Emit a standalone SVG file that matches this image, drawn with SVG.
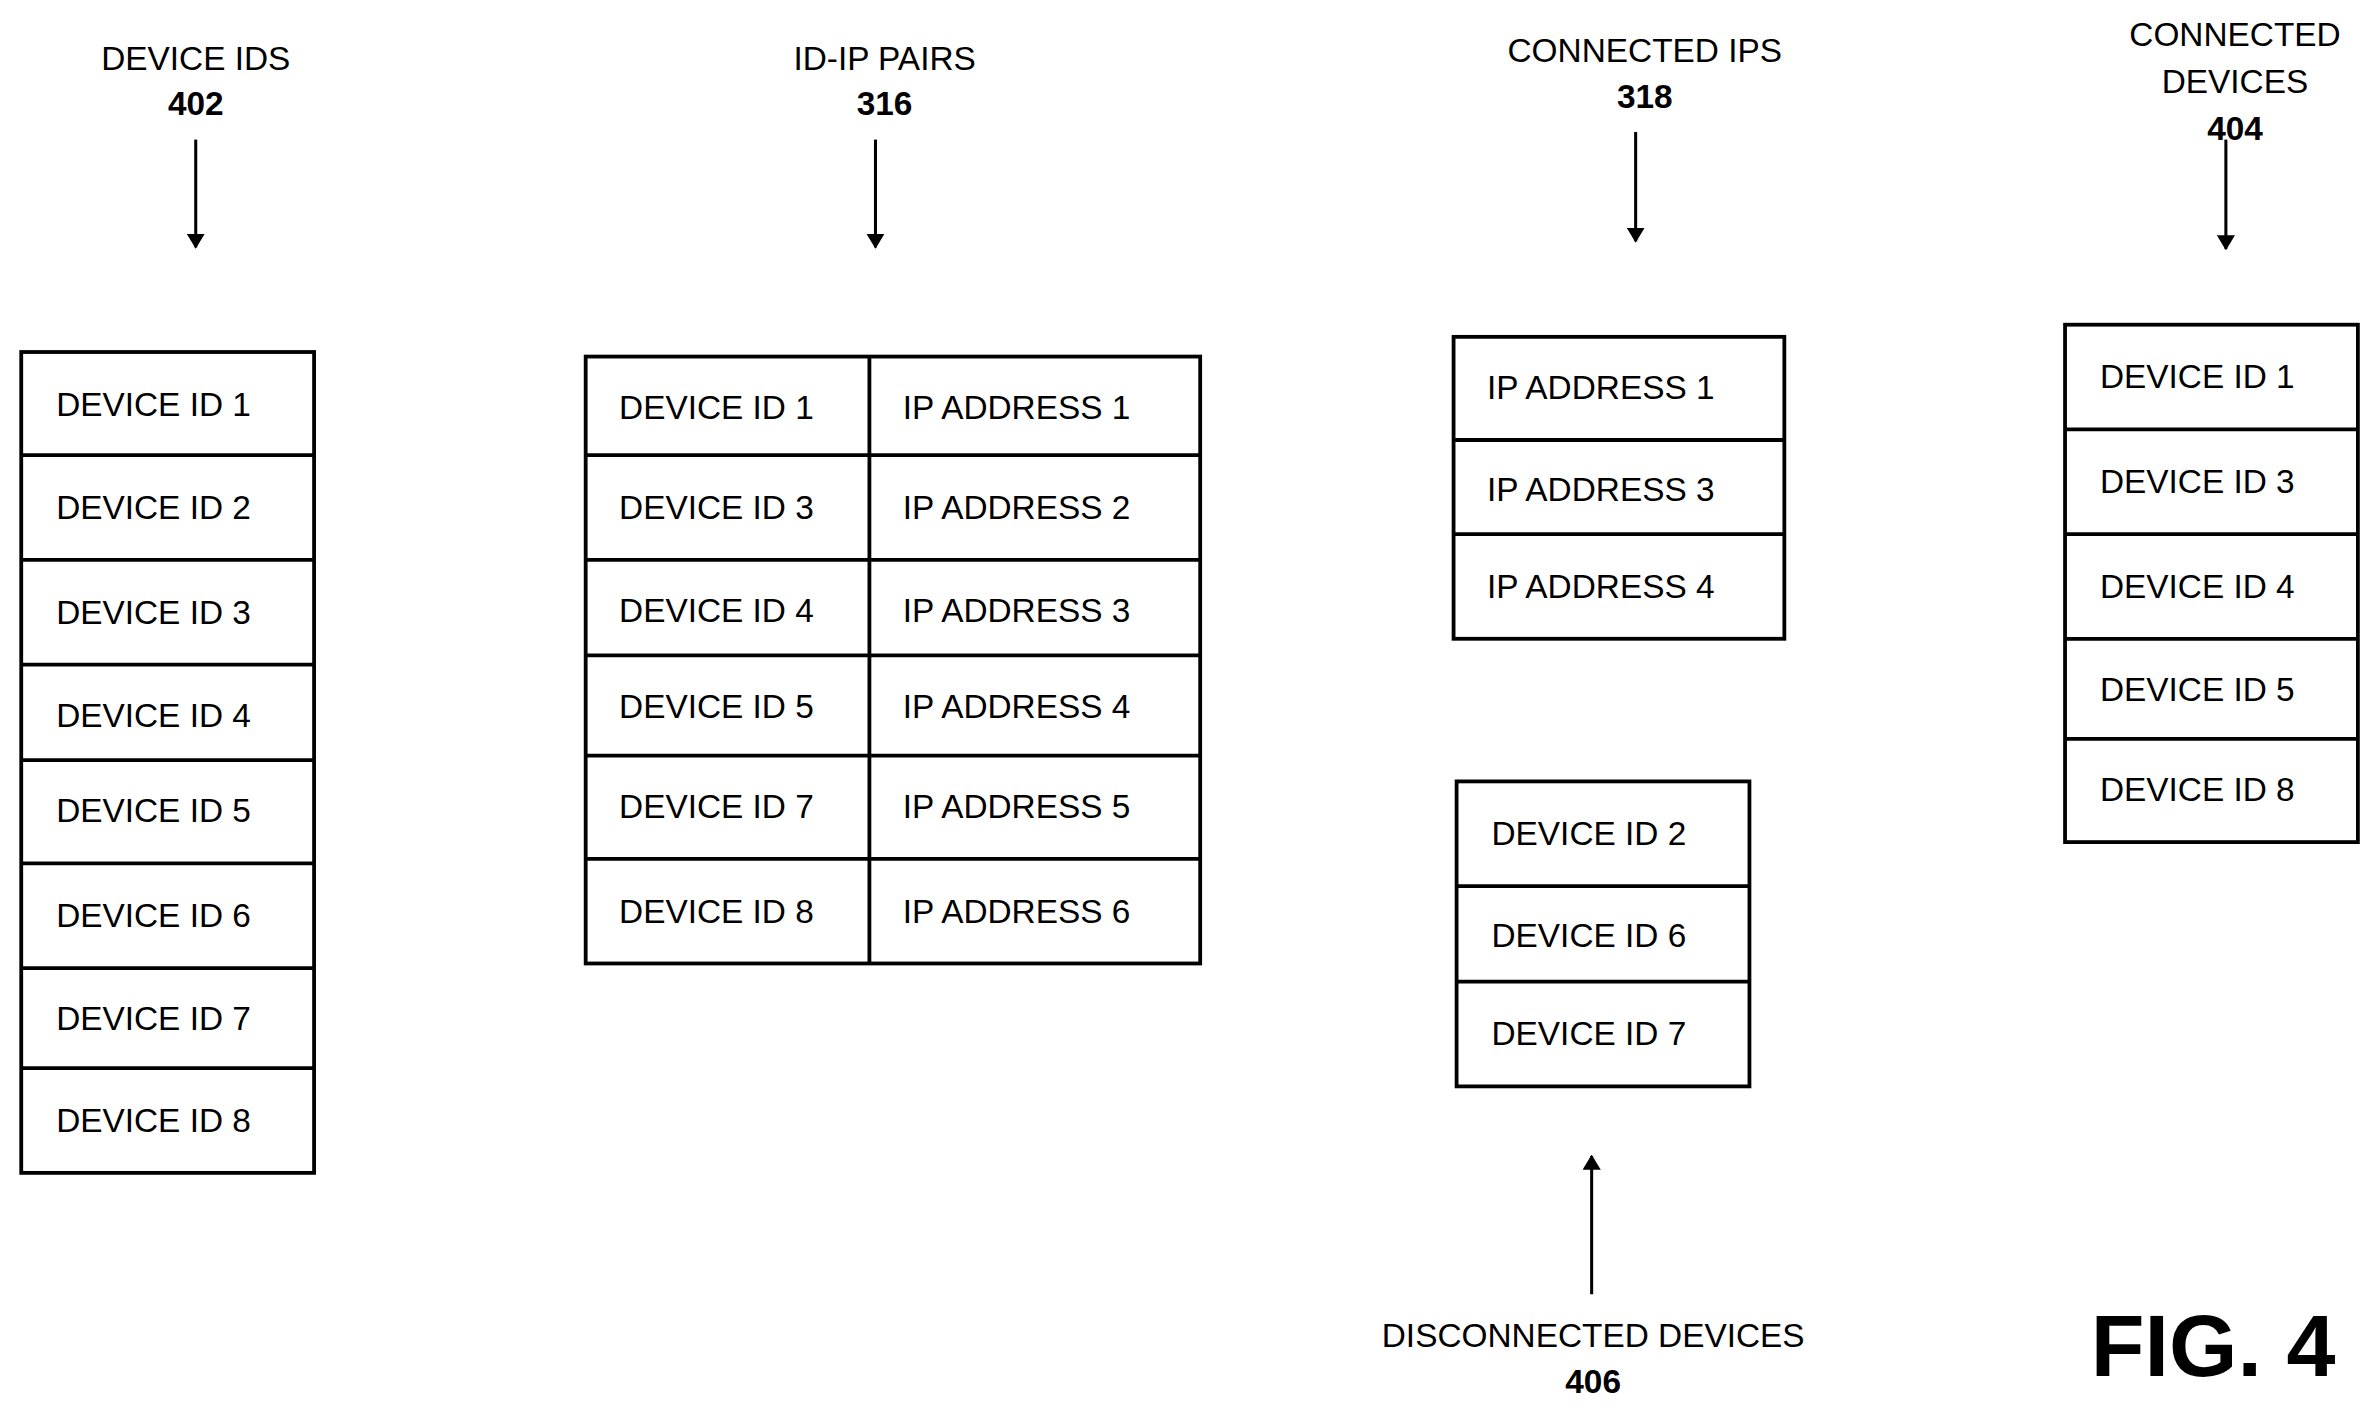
<svg xmlns="http://www.w3.org/2000/svg" width="2379" height="1415" viewBox="0 0 2379 1415">
<style>
.b{fill:#fff;stroke:#000;stroke-width:2.5}
.l{stroke:#000;stroke-width:2.5;fill:none}
.t{font-family:"Liberation Sans",Arial,sans-serif;font-size:22px;fill:#000}
.c{text-anchor:middle}
.n{font-weight:bold}
.a{stroke:#000;stroke-width:2;fill:none;marker-end:url(#ah)}
</style>
<defs><marker id="ah" markerWidth="10" markerHeight="12" refX="9" refY="6" orient="auto" markerUnits="userSpaceOnUse"><path d="M0,0 L10,6 L0,12 z" fill="#000"/></marker></defs>
<rect width="2379" height="1415" fill="#fff"/>
<g transform="scale(1.5173)">
<g id="device-ids">
<rect class="b" x="14" y="232" width="193" height="541"/>
<path class="l" d="M14 300H207M14 369H207M14 438H207M14 501H207M14 569H207M14 638H207M14 704H207"/>
<text class="t" x="37" y="274">DEVICE ID 1</text><text class="t" x="37" y="342">DEVICE ID 2</text><text class="t" x="37" y="411">DEVICE ID 3</text><text class="t" x="37" y="479">DEVICE ID 4</text><text class="t" x="37" y="542">DEVICE ID 5</text><text class="t" x="37" y="611">DEVICE ID 6</text><text class="t" x="37" y="679">DEVICE ID 7</text><text class="t" x="37" y="746">DEVICE ID 8</text>
<text class="t c" x="129" y="46">DEVICE IDS</text><text class="t c n" x="129" y="76">402</text>
</g>
<g id="id-ip-pairs">
<rect class="b" x="386" y="235" width="405" height="400"/>
<path class="l" d="M573 235V635M386 300H791M386 369H791M386 432H791M386 498H791M386 566H791"/>
<g class="t">
<text x="408" y="276">DEVICE ID 1</text><text x="595" y="276">IP ADDRESS 1</text>
<text x="408" y="342">DEVICE ID 3</text><text x="595" y="342">IP ADDRESS 2</text>
<text x="408" y="410">DEVICE ID 4</text><text x="595" y="410">IP ADDRESS 3</text>
<text x="408" y="473">DEVICE ID 5</text><text x="595" y="473">IP ADDRESS 4</text>
<text x="408" y="539">DEVICE ID 7</text><text x="595" y="539">IP ADDRESS 5</text>
<text x="408" y="608">DEVICE ID 8</text><text x="595" y="608">IP ADDRESS 6</text>
</g>
<text class="t c" x="583" y="46">ID-IP PAIRS</text><text class="t c n" x="583" y="76">316</text>
</g>
<g id="connected-ips">
<rect class="b" x="958" y="222" width="218" height="199"/>
<path class="l" d="M958 290H1176M958 352H1176"/>
<text class="t" x="980" y="263">IP ADDRESS 1</text><text class="t" x="980" y="330">IP ADDRESS 3</text><text class="t" x="980" y="394">IP ADDRESS 4</text>
<text class="t c" x="1084" y="41">CONNECTED IPS</text><text class="t c n" x="1084" y="71">318</text>
</g>
<g id="disconnected-devices">
<rect class="b" x="960" y="515" width="193" height="201"/>
<path class="l" d="M960 584H1153M960 647H1153"/>
<text class="t" x="983" y="557">DEVICE ID 2</text><text class="t" x="983" y="624">DEVICE ID 6</text><text class="t" x="983" y="689">DEVICE ID 7</text>
<text class="t c" x="1050" y="888">DISCONNECTED DEVICES</text><text class="t c n" x="1050" y="918">406</text>
</g>
<g id="connected-devices">
<rect class="b" x="1361" y="214" width="193" height="341"/>
<path class="l" d="M1361 283H1554M1361 352H1554M1361 421H1554M1361 487H1554"/>
<text class="t" x="1384" y="256">DEVICE ID 1</text><text class="t" x="1384" y="325">DEVICE ID 3</text><text class="t" x="1384" y="394">DEVICE ID 4</text><text class="t" x="1384" y="462">DEVICE ID 5</text><text class="t" x="1384" y="528">DEVICE ID 8</text>
<text class="t c" x="1473" y="30">CONNECTED</text><text class="t c" x="1473" y="61">DEVICES</text><text class="t c n" x="1473" y="92">404</text>
</g>
<g id="connectors">
<path class="a" d="M129 92V163"/>
<path class="a" d="M577 92V163"/>
<path class="a" d="M1078 87V159"/>
<path class="a" d="M1467 92V164"/>
<path class="a" d="M1049 853V762"/>
</g>
<text x="1378" y="907" style="font-family:'Liberation Sans',Arial,sans-serif;font-size:58px;font-weight:bold">FIG. 4</text>
</g>
</svg>
